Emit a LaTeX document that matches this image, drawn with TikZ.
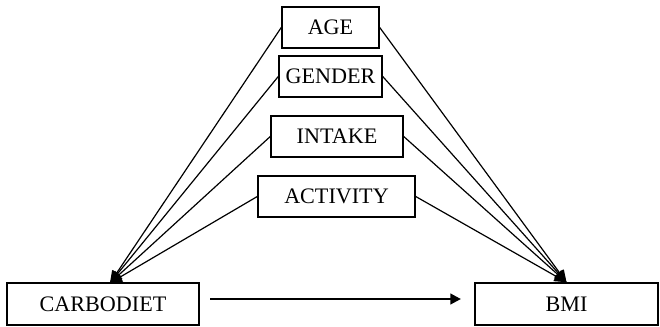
\documentclass[tikz,border=0pt]{standalone}
\usepackage{fontspec}
\setmainfont{Liberation Serif}
\usetikzlibrary{arrows.meta}

\tikzset{every picture/.style={line width=0.75pt}}
\tikzset{
  varbox/.style={draw, line width=1.1pt, minimum height=30.75pt, inner sep=0pt, font=\fontsize{16.6}{20}\selectfont},
  link/.style={line width=0.9pt, -{Triangle[length=9pt,width=8pt]}},
  mainlink/.style={line width=1.8pt, -{Triangle[length=8pt,width=8pt]}}
}

\begin{document}
\begin{tikzpicture}[x=0.75pt,y=0.75pt,yscale=-1,xscale=1]
\useasboundingbox (0,0) rectangle (660,326);

% Upper boxes
\node [varbox, minimum width=72.75pt] (age) at (330.5,27.5) {AGE};
\node [varbox, minimum width=77.25pt] (gender) at (330.5,76.5) {GENDER};
\node [varbox, minimum width=99pt] (intake) at (337,136.5) {INTAKE};
\node [varbox, minimum width=117.75pt] (activity) at (336.5,196.5) {ACTIVITY};

% Lower boxes
\node [varbox, minimum width=144pt, minimum height=31.5pt] (carbodiet) at (103,304) {CARBODIET};
\node [varbox, minimum width=137.25pt, minimum height=31.5pt] (bmi) at (566.5,304) {BMI};

\coordinate (cdtop) at (110,283);

% Lines into CARBODIET and BMI
\foreach \v in {age,gender,intake,activity} {
  \draw [link] (\v.west) -- (cdtop);
  \draw [link] (\v.east) -- (bmi.north);
}

% Main arrow
\draw [mainlink, shorten <=8pt, shorten >=10pt] ([yshift=-3.75pt]carbodiet.east) -- ([yshift=-3.75pt]bmi.west);

\end{tikzpicture}
\end{document}
